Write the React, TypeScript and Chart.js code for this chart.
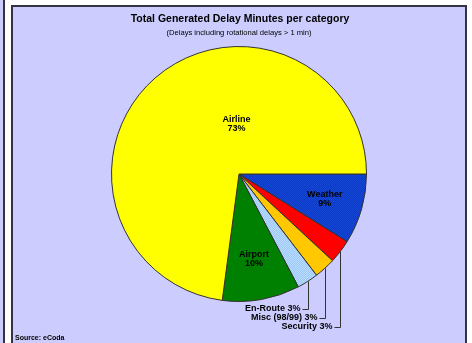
import React, { useEffect, useRef } from "react";
import { Chart, registerables } from "chart.js";

Chart.register(...registerables);

const categories = ["Weather", "Security", "Misc (98/99)", "En-Route", "Airport", "Airline"];
const values = [8.9, 3.0, 2.7, 2.7, 9.8, 72.9];
const pctLabels = ["9%", "3%", "3%", "3%", "10%", "73%"];
const colors = ["#1040CC", "#FF0000", "#FFC800", "#A8D0F8", "#008000", "#FFFF00"];
const titleText = "Total Generated Delay Minutes per category";
const subtitleText = "(Delays including rotational delays > 1 min)";
const sourceText = "Source: eCoda";

function makePattern(c1: string, c2: string): CanvasPattern | string {
  const p = document.createElement("canvas");
  p.width = 2;
  p.height = 2;
  const g = p.getContext("2d");
  if (!g) return c1;
  g.fillStyle = c1;
  g.fillRect(0, 0, 2, 2);
  g.fillStyle = c2;
  g.fillRect(0, 0, 1, 1);
  g.fillRect(1, 1, 1, 1);
  const pat = g.createPattern(p, "repeat");
  return pat || c1;
}

// inside label placement (angle in degrees clockwise from 3 o'clock, radius fraction)
const insideLabels: Record<number, { a: number; f: number }> = {
  0: { a: 16, f: 0.7 },
  4: { a: 80, f: 0.68 },
  5: { a: 267, f: 0.39 },
};

const framePlugin = {
  id: "frame",
  beforeDraw(chart: any) {
    const ctx = chart.ctx;
    ctx.save();
    ctx.fillStyle = "#FFFFFF";
    ctx.fillRect(0, 0, chart.width, chart.height);
    ctx.fillStyle = "#CCCCFF";
    ctx.fillRect(0, 0, 4, chart.height);
    ctx.fillStyle = "#333344";
    ctx.fillRect(3, 0, 2, chart.height);
    ctx.fillStyle = "#CCCCFF";
    ctx.fillRect(12, 6, 455, chart.height);
    ctx.strokeStyle = "#333344";
    ctx.lineWidth = 2;
    ctx.beginPath();
    ctx.moveTo(12, chart.height + 2);
    ctx.lineTo(12, 6);
    ctx.lineTo(466, 6);
    ctx.lineTo(466, chart.height + 2);
    ctx.stroke();
    ctx.restore();
  },
  afterDraw(chart: any) {
    const ctx = chart.ctx;
    const meta = chart.getDatasetMeta(0);
    ctx.save();
    ctx.fillStyle = "#000000";
    ctx.textAlign = "center";
    ctx.textBaseline = "middle";
    ctx.font = "bold 10.5px 'Liberation Sans', Arial, sans-serif";
    ctx.fillText(titleText, 240, 19);
    ctx.font = "7.6px 'Liberation Sans', Arial, sans-serif";
    ctx.fillText(subtitleText, 239, 33);
    ctx.textAlign = "left";
    ctx.font = "bold 7px 'Liberation Sans', Arial, sans-serif";
    ctx.fillText(sourceText, 15, 338);

    ctx.font = "bold 9px 'Liberation Sans', Arial, sans-serif";
    ctx.textAlign = "center";
    Object.keys(insideLabels).forEach((k) => {
      const i = Number(k);
      const arc = meta.data[i];
      const { a, f } = insideLabels[i];
      const ang = (a * Math.PI) / 180;
      const r = arc.outerRadius * f;
      const x = arc.x + Math.cos(ang) * r;
      const y = arc.y + Math.sin(ang) * r;
      ctx.fillText(categories[i], x, y - 4.5);
      ctx.fillText(pctLabels[i], x, y + 4.5);
    });

    const outs = [
      { i: 3, dy: 309 },
      { i: 2, dy: 318 },
      { i: 1, dy: 327 },
    ];
    ctx.strokeStyle = "#333333";
    ctx.lineWidth = 1;
    ctx.textAlign = "right";
    outs.forEach(({ i, dy }) => {
      const arc = meta.data[i];
      const mid = (arc.startAngle + arc.endAngle) / 2;
      const ex = arc.x + Math.cos(mid) * arc.outerRadius;
      const ey = arc.y + Math.sin(mid) * arc.outerRadius;
      const lx = Math.round(ex) + 0.5;
      ctx.beginPath();
      ctx.moveTo(lx, ey);
      ctx.lineTo(lx, dy + 0.5);
      ctx.lineTo(lx - 6, dy + 0.5);
      ctx.stroke();
      ctx.fillText(categories[i] + " " + pctLabels[i], lx - 8, dy);
    });
    ctx.restore();
  },
};

export default function App() {
  const ref = useRef<HTMLCanvasElement | null>(null);
  useEffect(() => {
    if (!ref.current) return;
    const bg = [
      makePattern("#0838C8", "#1848D4"),
      colors[1],
      colors[2],
      makePattern("#A0C8F4", "#B8DCFF"),
      colors[4],
      colors[5],
    ];
    const chart = new Chart(ref.current, {
      type: "pie",
      data: {
        labels: categories,
        datasets: [
          {
            data: values,
            backgroundColor: bg as any,
            borderColor: "#333333",
            borderWidth: 1,
          },
        ],
      },
      options: {
        animation: false,
        responsive: false,
        rotation: 90,
        layout: { padding: { left: 111, right: 105, top: 46, bottom: 41 } },
        plugins: {
          legend: { display: false },
          tooltip: { enabled: false },
          title: { display: false },
        },
      },
      plugins: [framePlugin],
    });
    return () => chart.destroy();
  }, []);
  return (
    <div style={{ position: "absolute", left: 0, top: 0, width: 472, height: 343 }}>
      <canvas ref={ref} width={472} height={343} style={{ width: 472, height: 343 }} />
    </div>
  );
}
